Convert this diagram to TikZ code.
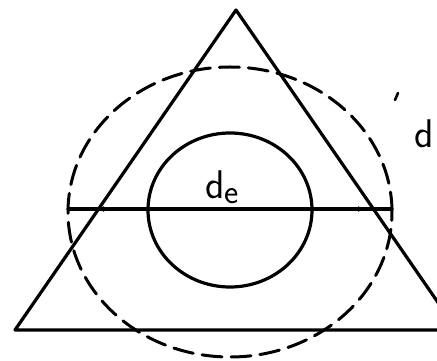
\documentclass[tikz,border=0pt]{standalone}
\usepackage{tikz}
\usetikzlibrary{arrows.meta}

\begin{document}
\begin{tikzpicture}[x=1pt,y=1pt,>=Latex,line cap=round,line join=round,
    outline/.style={line width=3.2pt},
    dashcircle/.style={line width=3pt,dash pattern=on 20pt off 9pt},
    lbl/.style={font=\fontsize{40}{42}\selectfont\sffamily,inner sep=0pt}]
  \useasboundingbox (0,0) rectangle (437,361);

  \coordinate (apex) at (236,351);
  \coordinate (bl) at (15,31);
  \coordinate (br) at (457,31);
  \coordinate (ctr) at (230,149);
  \coordinate (dl) at (68,152);
  \coordinate (dr) at (392,152);
  \coordinate (al) at (97,152);
  \coordinate (ar) at (365,152);

  \draw[outline] (bl) -- (apex) -- (br) -- cycle;
  \draw[dashcircle] (ctr) ellipse[x radius=162,y radius=145];
  \draw[outline] (230,151) ellipse[x radius=82,y radius=77];

  \draw[outline] (dl) -- (dr);
  \draw[outline,{Latex[length=7pt,width=6pt]}-{Latex[length=7pt,width=6pt]}] (al) -- (ar);

  \node[lbl] (de) at (222,174) {d\raisebox{-0.3ex}{\fontsize{34}{36}\selectfont e}};
  \node[lbl] (dd) at (424,227) {d};
  \draw[line width=2.6pt] (395,261) -- (398,268);
\end{tikzpicture}
\end{document}
